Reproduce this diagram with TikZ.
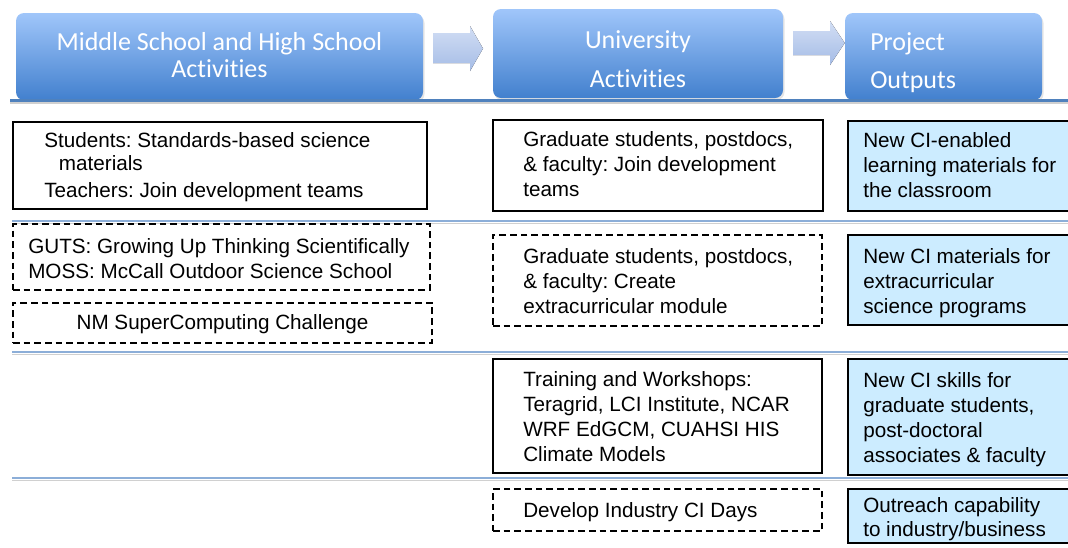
\documentclass[tikz,border=0pt]{standalone}
\usepackage{fontspec}
\setmainfont{Liberation Sans}
\newfontfamily\hdrfont[Ligatures=NoCommon]{Carlito}
\usetikzlibrary{fit}
\definecolor{hdrtop}{RGB}{160,198,250}
\definecolor{hdrbot}{RGB}{66,128,206}
\definecolor{arrtop}{RGB}{210,222,244}
\definecolor{arrbot}{RGB}{165,188,230}
\definecolor{hline}{RGB}{79,129,189}
\definecolor{divline}{RGB}{140,174,216}
\definecolor{shadowgray}{RGB}{208,208,208}
\definecolor{outfill}{RGB}{204,236,255}
\frenchspacing
\tikzset{
  hdrbox/.style={rounded corners=6pt, top color=hdrtop, bottom color=hdrbot, draw=none, inner sep=0pt},
  hdrshadow/.style={rounded corners=6pt, fill=black!10, draw=none},
  hdrtext/.style={font=\hdrfont\fontsize{19.5}{20.25}\selectfont, text=white, inner sep=0pt},
  bodytext/.style={font=\fontsize{15.5}{18.75}\selectfont, align=left, inner sep=0pt, anchor=base west},
  plainbox/.style={draw=black, line width=1.5pt, fill=white, inner sep=0pt},
  dashbox/.style={plainbox, dash pattern=on 5pt off 3pt},
  outbox/.style={draw=black, line width=1.5pt, fill=outfill, inner sep=0pt},
  flowarrow/.style={top color=arrtop, bottom color=arrbot, draw=none},
  hdrrule/.style={draw=hline, line width=1.6pt},
  divrule/.style={draw=divline, line width=1.2pt},
  shadowrule/.style={draw=shadowgray, line width=1.2pt}
}
\begin{document}
\begin{tikzpicture}[x=0.75pt,y=-0.75pt]
\useasboundingbox (0,0) rectangle (1068,547);
\clip (0,0) rectangle (1068,547);

% header boxes with soft shadow
\fill[hdrshadow] (17,15) rectangle (424.5,102);
\fill[hdrshadow] (494,11) rectangle (784.5,100);
\fill[hdrshadow] (846,15) rectangle (1043.5,102);
\node[hdrbox, fit={(16,13) (423,100)}] (H1) {};
\node[hdrbox, fit={(493,9) (783,98)}] (H2) {};
\node[hdrbox, fit={(845,13) (1042,100)}] (H3) {};

% (multi-line nodes: base anchor = baseline of the last line)
\node[hdrtext, anchor=base, align=center] (h1t) at (219.5,77) {Middle School and High School\\Activities};
\node[hdrtext, anchor=base, align=center, font=\hdrfont\fontsize{19.5}{29.25}\selectfont] (h2t) at (638,87) {University\\Activities};
\node[hdrtext, anchor=base west, align=left, font=\hdrfont\fontsize{19.5}{28.5}\selectfont] (h3t) at (870,88) {Project\\Outputs};

% block arrows between header boxes
\coordinate (a1tip) at (483,48.5);
\coordinate (a2tip) at (H3.west |- 0,43);
\fill[flowarrow] (433,33) -- (470,33) -- (470,26) -- (a1tip) -- (470,71) -- (470,63) -- (433,63) -- cycle;
\fill[flowarrow] (793,31) -- (830,31) -- (830,21) -- (a2tip) -- (830,65) -- (830,55) -- (793,55) -- cycle;

% rules
\draw[shadowrule] (10,103) -- (1068,103);
\draw[hdrrule] (10,100.5) -- (1068,100.5);
\foreach \yy in {221,352,478}{
  \draw[shadowrule] (12,\yy+2.5) -- (1068,\yy+2.5);
  \draw[divrule] (12,\yy) -- (1068,\yy);
}

% row 1
\node[plainbox, fit={(13,122) (427,209)}] (L1) {};
\node[plainbox, fit={(493,120) (823,211)}] (M1) {};
\node[outbox, fit={(848,121) (1080,211)}] (R1) {};
\node[bodytext] (tL1) at (44,197) {Students: Standards-based science\\[-1.5pt]\hspace*{11pt}materials\\[1.5pt]Teachers: Join development teams};
\node[bodytext] (tM1) at (523,196.5) {Graduate students, postdocs,\\\& faculty: Join development\\teams};
\node[bodytext] (tR1) at (863,197) {New CI-enabled\\learning materials for\\the classroom};

% row 2
\node[dashbox, fit={(13,224) (430,290)}] (L2a) {};
\node[dashbox, fit={(13,303) (432,343)}] (L2b) {};
\node[dashbox, fit={(493,235) (822,326)}] (M2) {};
\node[outbox, fit={(848,235) (1080,325)}] (R2) {};
\node[bodytext] (tL2a) at (28,278) {GUTS: Growing Up Thinking Scientifically\\MOSS: McCall Outdoor Science School};
\node[bodytext, anchor=base] (tL2b) at (222.5,329) {NM SuperComputing Challenge};
\node[bodytext] (tM2) at (523,313) {Graduate students, postdocs,\\\& faculty: Create\\extracurricular module};
\node[bodytext] (tR2) at (863,313) {New CI materials for\\extracurricular\\science programs};

% row 3
\node[plainbox, fit={(493,359) (822,473)}] (M3) {};
\node[outbox, fit={(848,359) (1080,475)}] (R3) {};
\node[bodytext] (tM3) at (523,461.5) {Training and Workshops:\\Teragrid, LCI Institute, NCAR\\WRF EdGCM, CUAHSI HIS\\Climate Models};
\node[bodytext] (tR3) at (863,462) {New CI skills for\\graduate students,\\post-doctoral\\associates \& faculty};

% row 4
\node[dashbox, fit={(493,489) (822,531)}] (M4) {};
\node[outbox, fit={(848,489) (1080,543)}] (R4) {};
\node[bodytext] (tM4) at (523,517) {Develop Industry CI Days};
\node[bodytext, font=\fontsize{15.5}{18}\selectfont] (tR4) at (863,536) {Outreach capability\\to industry/business};
\end{tikzpicture}
\end{document}
